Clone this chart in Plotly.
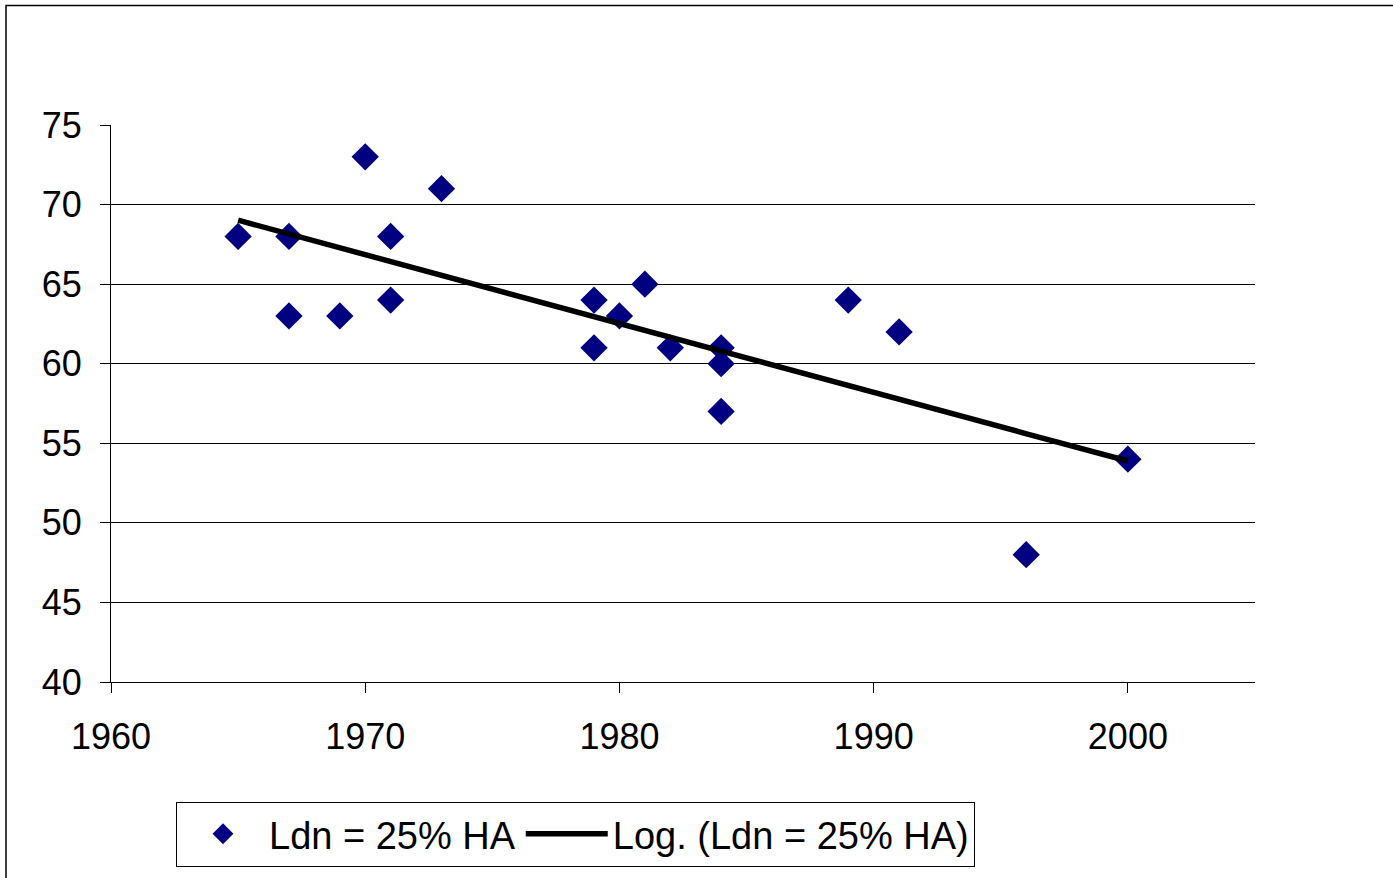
import numpy as np
import plotly.graph_objects as go

# Data
years = [1965, 1967, 1967, 1969, 1970, 1971, 1971, 1973, 1979, 1979,
         1980, 1981, 1982, 1984, 1984, 1984, 1989, 1991, 1996, 2000]
ldn = [68, 68, 63, 63, 73, 68, 64, 71, 64, 61,
       63, 65, 61, 61, 60, 57, 64, 62, 48, 54]
x_ticks = [1960, 1970, 1980, 1990, 2000]
y_ticks = [40, 45, 50, 55, 60, 65, 70, 75]
series_name = "Ldn = 25% HA"
trend_name = "Log. (Ldn = 25% HA)"

# Logarithmic trendline (least squares on ln(x)), as the spreadsheet computes it
coef = np.polyfit(np.log(years), ldn, 1)
trend_x = np.linspace(min(years), max(years), 80)
trend_y = coef[0] * np.log(trend_x) + coef[1]

W, H = 1393, 878
L, R, T, B = 111, 1255, 125, 684

fig = go.Figure()
fig.add_trace(go.Scatter(
    x=years, y=ldn, mode="markers", name=series_name,
    marker=dict(symbol="diamond", size=21, color="#000080",
                line=dict(width=0)),
))
fig.add_trace(go.Scatter(
    x=trend_x, y=trend_y, mode="lines", name=trend_name,
    line=dict(color="black", width=5.5),
))

font = dict(family="Liberation Sans, Arial, sans-serif", size=36, color="black")

fig.update_layout(
    width=W, height=H,
    margin=dict(l=L, r=W - R, t=T, b=H - B, pad=0),
    paper_bgcolor="white", plot_bgcolor="white",
    font=font,
    showlegend=True,
    legend=dict(
        orientation="h", x=(176 - L) / (R - L), y=(B - 804) / (B - T),
        xanchor="left", yanchor="top",
        bordercolor="black", borderwidth=1, bgcolor="white",
        font=dict(family="Liberation Sans, Arial, sans-serif", size=38, color="black"),
        itemwidth=82, tracegroupgap=0,
    ),
    xaxis=dict(
        range=[1960, 2005], tickvals=x_ticks, showgrid=False, zeroline=False,
        showline=True, linecolor="black", linewidth=1,
        ticks="outside", ticklen=10, tickcolor="black", tickwidth=1,
        ticklabelstandoff=13,
    ),
    yaxis=dict(
        range=[40, 75], tickvals=y_ticks, showgrid=True, gridcolor="black",
        gridwidth=1, zeroline=False,
        showline=True, linecolor="black", linewidth=1,
        ticks="outside", ticklen=10, tickcolor="black", tickwidth=1,
        ticklabelstandoff=11,
    ),
    shapes=[dict(
        type="rect", xref="paper", yref="paper",
        x0=(6 - L) / (R - L), x1=(1400 - L) / (R - L),
        y0=(B - 900) / (B - T), y1=(B - 5) / (B - T),
        line=dict(color="black", width=1.5), fillcolor="rgba(0,0,0,0)",
        layer="below",
    )],
)

fig.write_html(
    "out.html",
    config={"displayModeBar": False},
    post_script="document.body.style.margin='0px';document.body.style.overflow='hidden';",
)
